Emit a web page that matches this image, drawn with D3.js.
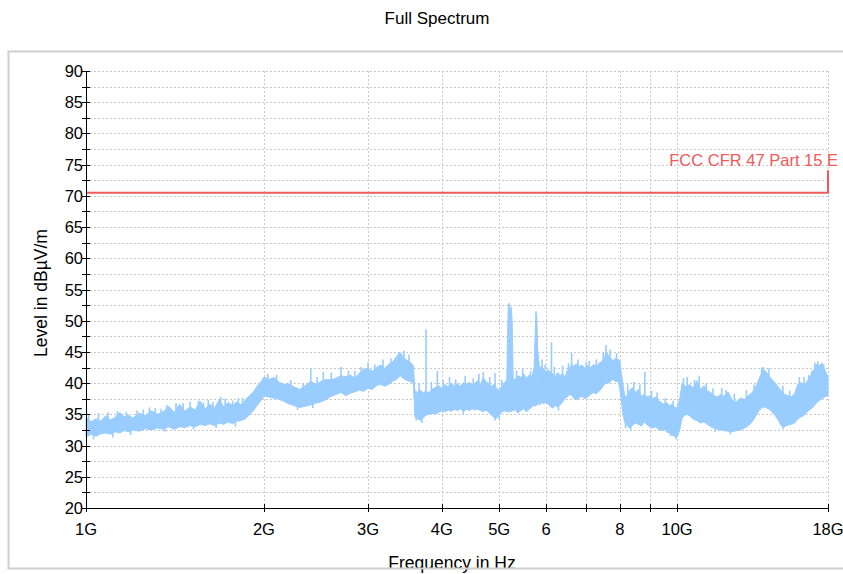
<!DOCTYPE html>
<html><head><meta charset="utf-8">
<script src="https://cdn.jsdelivr.net/npm/d3@7"></script>
<style>body{margin:0;background:#fff}svg{display:block}text{font-family:"Liberation Sans",Arial,sans-serif}</style>
</head><body><svg id="c" width="843" height="574"></svg>
<script>
// ---- data (frequency in GHz, level in dBµV/m) ----
const freqs = [1.00,1.02,1.04,1.06,1.08,1.10,1.12,1.14,1.16,1.18,1.20,1.23,1.26,1.29,1.32,1.35,1.38,1.41,1.44,1.47,1.50,1.53,1.56,1.59,1.62,1.65,1.68,1.71,1.74,1.77,1.80,1.83,1.86,1.89,1.92,1.95,1.98,
 2.00,2.04,2.08,2.12,2.16,2.20,2.25,2.30,2.35,2.40,2.45,2.50,2.55,2.60,2.65,2.70,2.75,2.80,2.85,2.90,2.95,3.00,3.05,3.10,3.15,3.20,3.25,3.30,3.35,3.40,3.45,3.50,3.55,3.58,
 3.60,3.64,3.68,3.72,3.75,3.80,3.85,3.90,3.95,4.00,4.05,4.10,4.15,4.20,4.25,4.30,4.35,4.40,4.45,4.50,4.55,4.60,4.65,4.70,4.75,4.80,4.85,4.90,4.95,5.00,5.05,5.10,5.15,5.18,5.20,5.22,5.24,5.26,5.28,5.32,5.38,5.44,5.50,5.56,5.62,5.68,5.73,5.75,5.77,5.79,5.81,5.85,5.90,5.95,6.00,6.05,6.10,6.16,6.22,6.28,6.34,6.40,6.46,6.52,6.58,6.64,6.68,6.75,6.82,6.90,6.98,7.06,7.14,7.22,7.30,7.38,7.46,7.54,7.60,7.66,7.72,7.80,7.88,7.95,8.00,
 8.05,8.10,8.15,8.20,8.30,8.40,8.50,8.60,8.70,8.80,8.90,9.00,9.10,9.20,9.30,9.40,9.50,9.60,9.70,9.80,9.90,10.0,10.1,10.2,10.35,10.5,10.65,10.8,10.95,11.1,11.25,11.4,11.55,11.7,11.85,12.0,12.2,12.4,12.6,12.8,13.0,13.2,13.4,13.6,13.8,14.0,14.2,14.4,14.6,14.8,15.0,15.2,15.4,15.6,15.8,16.0,16.2,16.4,16.6,16.8,17.0,17.2,17.4,17.6,17.8,18.0];
const upper = [34.6,33.8,34.3,33.9,34.8,34.1,34.5,35.3,34.6,34.9,34.4,35.2,34.8,35.6,35.0,35.4,36.3,35.3,36.6,35.5,36.2,35.7,37.1,35.9,36.6,36.0,37.3,36.2,36.9,36.4,37.0,36.5,37.3,38.0,38.6,39.6,40.3,
 41.0,40.6,40.9,40.2,39.8,39.9,39.4,39.0,39.6,40.3,39.8,40.3,40.6,40.5,40.8,41.2,41.0,41.3,40.8,41.6,42.2,42.4,41.9,42.5,42.9,42.4,43.0,43.4,44.2,44.9,44.0,43.6,43.2,42.8,
 38.8,38.5,38.9,38.4,38.7,38.5,39.0,39.3,39.6,39.2,39.8,39.4,40.0,39.6,39.9,39.5,40.1,39.7,40.2,39.6,40.0,40.4,39.8,40.9,40.2,40.0,39.5,39.8,39.2,38.8,39.5,40.0,40.5,52.5,52.8,51.5,52.2,50.0,40.8,40.5,41.2,40.9,41.5,40.8,41.3,41.0,42.5,47.0,51.5,50.5,45.5,42.3,42.8,42.0,41.6,42.2,41.8,41.5,41.0,41.7,41.2,41.6,40.9,42.0,42.5,43.0,42.7,43.1,42.6,42.9,42.4,42.8,42.5,43.0,42.7,43.2,43.5,44.2,45.0,44.3,44.0,43.6,44.0,43.8,43.5,
 41.5,39.8,38.2,37.6,38.8,39.3,38.5,39.0,37.9,38.2,37.8,38.0,37.5,37.8,37.2,36.9,36.6,36.9,36.4,36.6,36.2,36.0,37.5,40.0,39.4,39.8,39.2,40.4,39.0,39.6,38.8,38.5,38.0,37.8,38.2,37.9,38.6,37.2,37.0,37.6,37.4,38.0,38.5,39.5,41.0,42.2,41.6,40.8,40.2,39.5,38.8,38.2,38.0,37.8,38.3,39.8,40.1,39.6,40.3,41.2,42.0,43.0,42.8,43.2,42.0,41.0];
const lower = [31.4,31.8,31.5,31.9,32.0,31.8,32.2,32.0,32.4,32.2,32.5,32.3,32.7,32.5,32.8,32.6,33.0,32.6,33.0,32.9,33.2,33.0,33.4,33.2,33.5,33.2,33.6,33.4,33.8,33.5,33.9,34.0,34.3,34.9,35.6,36.5,37.3,
 37.9,37.8,37.6,37.4,37.1,36.7,36.4,36.1,36.3,36.5,36.8,37.0,37.4,37.9,38.2,38.5,38.0,38.4,38.6,38.9,38.7,39.2,39.0,39.6,39.8,39.5,39.8,40.3,40.6,41.2,40.7,40.4,40.2,40.0,
 34.6,34.3,34.0,34.4,34.8,35.0,35.2,35.0,35.3,35.6,35.4,35.7,35.5,35.8,35.6,35.9,35.5,35.8,35.6,35.9,35.7,35.8,35.6,35.4,35.7,35.3,34.9,34.5,34.4,34.8,35.3,35.6,35.4,35.5,35.3,35.6,35.4,35.7,35.5,35.8,35.2,35.6,35.9,35.4,35.8,36.2,36.5,36.3,36.6,36.4,36.8,36.5,36.9,36.7,37.0,36.6,36.3,36.0,36.4,36.2,36.5,37.0,37.5,37.8,38.2,38.0,37.6,37.3,37.6,37.9,37.5,37.8,38.2,38.5,38.3,38.7,39.2,39.8,40.2,40.0,40.3,40.6,40.2,40.4,39.0,
 37.2,35.0,33.8,33.4,32.8,33.2,33.6,33.4,33.1,33.8,33.3,33.0,32.8,33.0,32.6,32.4,32.6,32.2,32.0,31.7,31.5,31.4,32.5,34.4,35.0,34.8,34.2,34.0,33.6,33.8,33.4,33.0,32.8,32.6,32.5,32.4,32.3,32.2,32.4,32.5,32.8,33.2,33.8,34.8,35.8,36.2,36.0,35.6,35.0,34.2,33.2,33.0,33.3,33.4,33.6,34.2,34.6,34.8,35.4,35.8,36.2,36.8,37.2,37.6,37.8,38.0];
// narrow peaks above the band: frequency (GHz) and peak level
const spikeFreqs = [1.01,1.05,1.09,1.13,1.17,1.22,1.25,1.28,1.31,1.34,1.37,1.42,1.46,1.50,1.55,1.58,1.61,1.64,1.69,1.72,1.77,1.81,1.84,
 2.03,2.10,2.22,2.33,2.40,2.46,2.52,2.60,2.70,2.78,2.85,2.92,3.00,3.08,3.18,3.28,3.38,3.45,3.52,
 3.66,3.76,3.84,3.93,4.02,4.12,4.22,4.38,4.52,4.62,4.70,4.82,4.92,5.05,5.35,5.48,5.65,5.91,5.98,6.13,6.20,6.40,6.55,6.63,6.80,7.02,7.10,7.30,7.50,7.58,7.70,7.90,
 8.25,8.45,8.65,8.82,9.05,9.25,9.55,9.85,10.25,10.4,10.7,10.9,11.2,11.5,11.9,12.1,12.5,13.1,13.5,13.9,14.0,14.3,15.1,15.5,16.1,16.4,16.7,16.9,17.1,17.3,17.7];
const spikeVals  = [35.0,35.2,35.3,35.5,35.4,35.6,35.8,36.1,36.0,35.9,36.5,36.8,36.8,37.0,37.2,36.9,37.3,37.0,37.8,37.5,37.2,37.6,37.6,
 41.5,41.3,40.5,40.0,42.4,41.0,41.8,41.7,42.6,42.0,42.0,42.6,43.3,43.0,43.8,44.0,45.0,45.2,44.6,
 40.0,48.6,40.2,42.0,40.5,41.0,40.6,41.2,40.8,41.5,41.8,41.0,41.6,40.5,42.0,42.3,42.0,43.8,43.0,46.6,42.6,42.8,43.2,44.8,43.8,43.4,43.6,43.8,45.0,46.1,45.4,44.8,
 39.8,40.2,39.8,41.8,38.8,38.5,37.6,37.2,40.8,41.0,40.5,41.2,40.0,39.2,39.2,38.9,38.3,38.9,39.8,42.5,42.6,42.4,39.6,38.8,41.0,41.0,41.3,42.0,43.3,43.5,43.0];
// narrow dips below the band
const dipFreqs = [1.03,1.11,1.19,1.36,1.52,1.66,1.79,2.28,2.42,3.62,3.70,4.35,4.92,5.00,6.30,8.18,8.35,9.75,9.95,11.6,12.3,15.1];
const dipVals  = [31.0,31.3,31.7,32.2,32.6,32.8,33.0,35.7,36.0,34.0,33.6,35.0,34.0,34.2,35.6,32.8,32.4,31.5,31.0,32.2,31.8,32.6];
// limit line
const limitFreqs = [1, 18, 18];
const limitVals  = [70.5, 70.5, 74.1];
const limitName = "FCC CFR 47 Part 15 E";
// axis ticks
const xTickVals   = [1,2,3,4,5,6,7,8,9,10,18];
const xTickLabels = ["1G","2G","3G","4G","5G","6","","8","","10G","18G"];
const yTickVals   = [20,25,30,35,40,45,50,55,60,65,70,75,80,85,90];
const yMinorVals  = [22.5,27.5,32.5,37.5,42.5,47.5,52.5,57.5,62.5,67.5,72.5,77.5,82.5,87.5];

// ---- drawing ----
const svg = d3.select("#c");
const L = 86, R = 828, T = 71, B = 508;
const x = d3.scaleLog().domain([1, 18]).range([L, R]);
const y = d3.scaleLinear().domain([20, 90]).range([B, T]);

svg.append("text").attr("x", 437).attr("y", 24).attr("text-anchor", "middle")
  .attr("font-size", 17).attr("fill", "#000").text("Full Spectrum");

// grid
const grid = svg.append("g").attr("stroke", "#c8c8c8").attr("stroke-width", 1).attr("stroke-dasharray", "2,2");
yTickVals.concat(yMinorVals).filter(v => v > 20).forEach(v => {
  grid.append("line").attr("x1", L).attr("x2", R).attr("y1", Math.round(y(v)) + 0.5).attr("y2", Math.round(y(v)) + 0.5);
});
xTickVals.filter(v => v > 1).forEach(v => {
  grid.append("line").attr("x1", Math.round(x(v)) + 0.5).attr("x2", Math.round(x(v)) + 0.5).attr("y1", T).attr("y2", B);
});

// spectrum band
const pts = freqs.map((f, i) => ({f, u: upper[i], l: lower[i]}));
const blue = "#99ccff";
svg.append("path").datum(pts)
  .attr("d", d3.area().x(d => x(d.f)).y0(d => y(d.l)).y1(d => y(d.u)))
  .attr("fill", blue).attr("stroke", blue).attr("stroke-width", 1);
const midAt = f => { const i = d3.bisector(d => d.f).left(pts, f); const p = pts[Math.min(i, pts.length - 1)]; return (p.l + p.u) / 2; };
svg.append("g").selectAll("line").data(spikeFreqs.map((f, i) => ({f, v: spikeVals[i]}))).join("line")
  .attr("x1", d => x(d.f)).attr("x2", d => x(d.f))
  .attr("y1", d => y(midAt(d.f))).attr("y2", d => y(d.v))
  .attr("stroke", blue).attr("stroke-width", 1.6);
svg.append("g").selectAll("line").data(dipFreqs.map((f, i) => ({f, v: dipVals[i]}))).join("line")
  .attr("x1", d => x(d.f)).attr("x2", d => x(d.f))
  .attr("y1", d => y(midAt(d.f))).attr("y2", d => y(d.v))
  .attr("stroke", blue).attr("stroke-width", 1.6);

// limit
const red = "#f05a5a";
svg.append("path").datum(limitFreqs.map((f, i) => [f, limitVals[i]]))
  .attr("d", d3.line().x(d => x(d[0])).y(d => y(d[1])))
  .attr("fill", "none").attr("stroke", red).attr("stroke-width", 2);
svg.append("text").attr("x", 838).attr("y", 166).attr("text-anchor", "end")
  .attr("font-size", 16.5).attr("fill", red).text(limitName);

// y axis
const ya = svg.append("g");
ya.append("line").attr("x1", L + 0.5).attr("x2", L + 0.5).attr("y1", T).attr("y2", B).attr("stroke", "#000");
yTickVals.concat(yMinorVals).forEach(v => {
  ya.append("line").attr("x1", L - 4).attr("x2", L + 4).attr("y1", Math.round(y(v)) + 0.5).attr("y2", Math.round(y(v)) + 0.5).attr("stroke", "#000");
});
ya.selectAll("text").data(yTickVals).join("text")
  .attr("x", L - 3).attr("y", d => y(d) + 6).attr("text-anchor", "end")
  .attr("font-size", 16.5).attr("fill", "#000").text(d => d);

// x axis
const xa = svg.append("g");
xa.append("line").attr("x1", L).attr("x2", R).attr("y1", B + 0.5).attr("y2", B + 0.5).attr("stroke", "#000");
xTickVals.forEach(v => {
  xa.append("line").attr("x1", Math.round(x(v)) + 0.5).attr("x2", Math.round(x(v)) + 0.5).attr("y1", B - 4).attr("y2", B + 4).attr("stroke", "#000");
});
xa.selectAll("text").data(xTickVals.map((v, i) => ({v, t: xTickLabels[i]}))).join("text")
  .attr("x", d => x(d.v)).attr("y", 535).attr("text-anchor", "middle")
  .attr("font-size", 16.5).attr("fill", "#000").text(d => d.t);

// axis titles
svg.append("text").attr("transform", "translate(47,293) rotate(-90)").attr("text-anchor", "middle")
  .attr("font-size", 17.5).attr("fill", "#000").text("Level in dBµV/m");
svg.append("text").attr("x", 452).attr("y", 569).attr("text-anchor", "middle")
  .attr("font-size", 17.5).attr("fill", "#000").text("Frequency in Hz");

// outer frame
svg.append("rect").attr("x", 8.5).attr("y", 51.5).attr("width", 842).attr("height", 517)
  .attr("fill", "none").attr("stroke", "#cfcfcf").attr("stroke-width", 2);
</script></body></html>
